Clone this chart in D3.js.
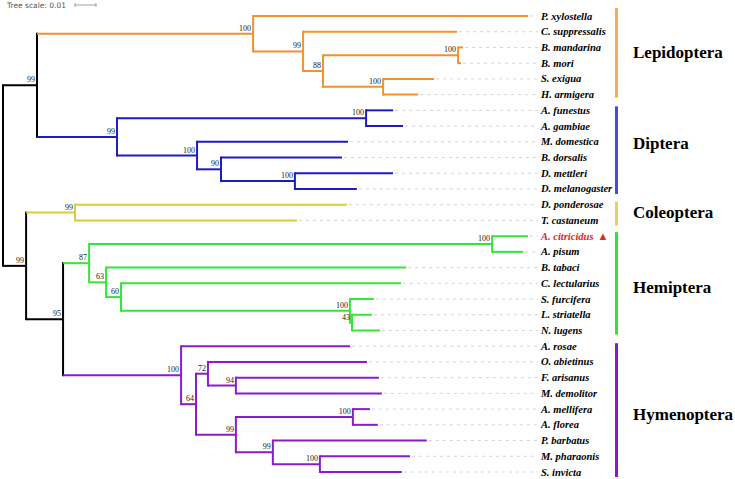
<!DOCTYPE html>
<html><head><meta charset="utf-8">
<script src="https://cdn.jsdelivr.net/npm/d3@7"></script>
<style>html,body{margin:0;padding:0;background:#fff;}svg{display:block;}</style>
</head><body>
<svg id="chart" width="735" height="479"></svg>
<script>
// Tree topology with branch lengths (substitutions/site) and bootstrap supports
const treeNewick = "(((P. xylostella:0.1310,(C. suppressalis:0.0733,((B. mandarina:0.0024,B. mori:0.0014)100:0.0643,(S. exigua:0.0243,H. armigera:0.0167)100:0.0286)88:0.0095)99:0.0238)100:0.1029,((A. funestus:0.0129,A. gambiae:0.0176)100:0.1186,(M. domestica:0.0719,(B. dorsalis:0.0576,(D. mettleri:0.0467,D. melanogaster:0.0295)100:0.0352)90:0.0114)100:0.0381)99:0.0381)99:0.0162,((D. ponderosae:0.1295,T. castaneum:0.1057)99:0.0233,(((A. citricidus:0.0171,A. pisum:0.0148)100:0.1919,(B. tabaci:0.1429,(C. lectularius:0.1333,(S. furcifera:0.0114,(L. striatella:0.0095,N. lugens:0.0133)43:0.0010)100:0.1090)60:0.0071)63:0.0081)87:0.0124,(A. rosae:0.0805,((O. abietinus:0.0757,(F. arisanus:0.0681,M. demolitor:0.0695)94:0.0133)72:0.0057,((A. mellifera:0.0081,A. florea:0.0119)100:0.0557,(P. barbatus:0.0733,(M. pharaonis:0.0429,S. invicta:0.0390)100:0.0224)99:0.0176)99:0.0190)64:0.0071)100:0.0562)95:0.0176)99:0.0110);";

const cladeNames  = ["Lepidoptera", "Diptera", "Coleoptera", "Hemiptera", "Hymenoptera"];
const cladeFirst  = ["P. xylostella", "A. funestus", "D. ponderosae", "A. citricidus", "A. rosae"];
const cladeLast   = ["H. armigera", "D. melanogaster", "T. castaneum", "N. lugens", "S. invicta"];
const highlighted = ["A. citricidus"];
const treeScaleValue = 0.01;

// styles
const branchColors = ["#f0922e", "#1c1cc4", "#dccb3a", "#36e636", "#8a1ccc"];
const barColors    = ["#f5ac5a", "#4a4ae0", "#e6cf6a", "#33e333", "#8a1ad0"];
const barPadTop    = [8, 4, 3, 4, 3];
const barPadBottom = [3, 5, 5, 4, 5];
const labelDy      = [3, -1, 5.5, 9.5, 10.5];

function parseNewick(s) {
  let i = 0;
  function node() {
    const n = {};
    if (s[i] === "(") {
      i++; n.children = [];
      while (true) {
        n.children.push(node());
        if (s[i] === ",") { i++; continue; }
        if (s[i] === ")") { i++; break; }
      }
    }
    let name = "";
    while (i < s.length && !":,);".includes(s[i])) name += s[i++];
    n.name = name.trim();
    if (s[i] === ":") {
      i++; let num = "";
      while (i < s.length && !",);".includes(s[i])) num += s[i++];
      n.length = +num;
    } else n.length = 0;
    return n;
  }
  return node();
}

const root = d3.hierarchy(parseNewick(treeNewick));
root.eachBefore(d => { d.dist = (d.parent ? d.parent.dist : 0) + (d.parent ? d.data.length : 0); });
const leaves = root.leaves();
const taxa = leaves.map(d => d.data.name);

const x = d3.scaleLinear().domain([0, 0.25]).range([3, 528]);
const y = d3.scalePoint().domain(taxa).range([16, 472]);

root.eachAfter(d => {
  if (d.children) d.py = (d.children[0].py + d.children[d.children.length - 1].py) / 2;
  else d.py = y(d.data.name);
  d.px = x(d.dist);
});

// clade colour assignment
const leafByName = new Map(leaves.map(l => [l.data.name, l]));
cladeNames.forEach((c, k) => {
  const a = leafByName.get(cladeFirst[k]), b = leafByName.get(cladeLast[k]);
  const anc = a.path(b).reduce((m, n) => (n.depth < m.depth ? n : m));
  anc.each(n => { n.color = branchColors[k]; });
});

const svg = d3.select("#chart");
const g = svg.append("g");
const serif = "'Liberation Serif', 'Times New Roman', serif";

// dashed leader lines
const labelX = 541;
g.append("g").selectAll("line").data(leaves).join("line")
  .attr("x1", d => d.px + 2).attr("x2", labelX - 3)
  .attr("y1", d => d.py).attr("y2", d => d.py)
  .attr("stroke", "#d4d4d4").attr("stroke-width", 1).attr("stroke-dasharray", "3,4");

// vertical segments
const internal = root.descendants().filter(d => d.children);
g.append("g").selectAll("line").data(internal).join("line")
  .attr("x1", d => d.px).attr("x2", d => d.px)
  .attr("y1", d => d.children[0].py).attr("y2", d => d.children[d.children.length - 1].py)
  .attr("stroke", d => d.color || "#000").attr("stroke-width", 2).attr("stroke-linecap", "square");

// horizontal segments
g.append("g").selectAll("line").data(root.descendants().filter(d => d.parent)).join("line")
  .attr("x1", d => d.parent.px).attr("x2", d => d.px)
  .attr("y1", d => d.py).attr("y2", d => d.py)
  .attr("stroke", d => d.color || "#000").attr("stroke-width", 2);

// bootstrap
g.append("g").selectAll("text").data(internal.filter(d => d.data.name !== "")).join("text")
  .attr("x", d => d.px - 2).attr("y", d => d.py - 3)
  .attr("text-anchor", "end")
  .style("font-family", serif)
  .style("font-size", "8px").style("fill", "#222")
  .text(d => d.data.name);

// leaf labels
const lbl = g.append("g").selectAll("text").data(leaves).join("text")
  .attr("x", labelX).attr("y", d => d.py + 3.5)
  .style("font-family", serif)
  .style("font-size", "10.5px").style("font-weight", "bold").style("font-style", "italic")
  .style("fill", d => highlighted.includes(d.data.name) ? "#e8202a" : "#000")
  .text(d => d.data.name);
lbl.filter(d => highlighted.includes(d.data.name)).append("tspan")
  .style("font-style", "normal").attr("dx", 4).style("font-size", "11px").text("▲");

// clade bars and names
const barX = 615;
cladeNames.forEach((c, k) => {
  const y0 = y(cladeFirst[k]) - barPadTop[k], y1 = y(cladeLast[k]) + barPadBottom[k];
  svg.append("rect").attr("x", barX).attr("y", y0).attr("width", 3).attr("height", y1 - y0)
    .attr("fill", barColors[k]);
  const cy = (y(cladeFirst[k]) + y(cladeLast[k])) / 2;
  svg.append("text").attr("x", 633).attr("y", cy + labelDy[k])
    .style("font-family", serif)
    .style("font-size", "17px").style("font-weight", "bold").style("fill", "#000")
    .text(c);
});

// tree scale
svg.append("text").attr("x", 7).attr("y", 8)
  .style("font-family", "'DejaVu Sans', sans-serif").style("font-size", "7.5px").style("fill", "#555")
  .text("Tree scale: " + treeScaleValue);
const sx0 = 75, sx1 = sx0 + (x(treeScaleValue) - x(0));
const sb = svg.append("g").attr("stroke", "#888").attr("stroke-width", 0.8);
sb.append("line").attr("x1", sx0).attr("x2", sx1).attr("y1", 5).attr("y2", 5);
sb.append("line").attr("x1", sx0).attr("x2", sx0).attr("y1", 3).attr("y2", 7);
sb.append("line").attr("x1", sx1).attr("x2", sx1).attr("y1", 3).attr("y2", 7);
</script>
</body></html>
